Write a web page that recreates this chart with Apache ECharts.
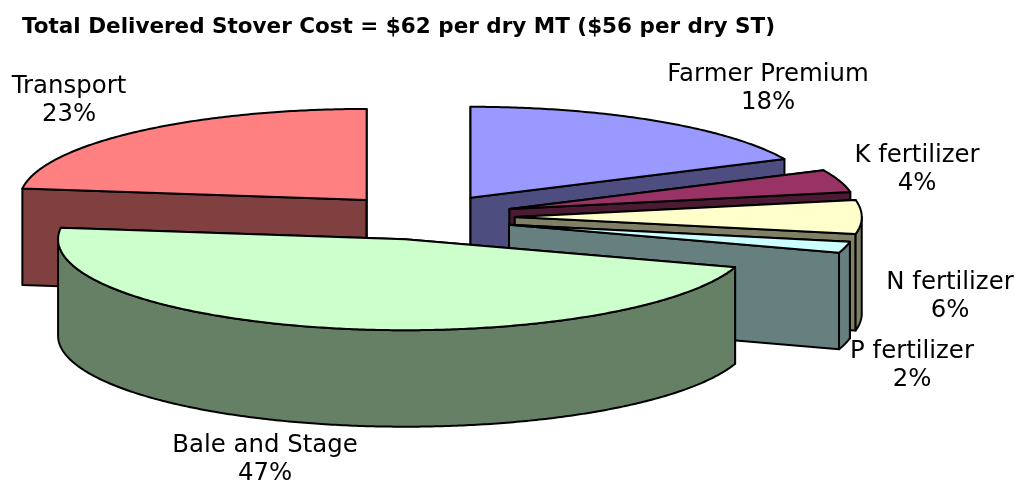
<!doctype html>
<html>
<head>
<meta charset="UTF-8">
<script src="https://cdn.jsdelivr.net/npm/echarts@6/dist/echarts.min.js"></script>
<style>html,body{margin:0;padding:0;background:#fff}</style>
</head>
<body>
<div id="main" style="width:1015px;height:482px"></div>
<script>
// values in percent, clockwise from 12 o'clock
var categories = ['Farmer Premium', 'K fertilizer', 'N fertilizer', 'P fertilizer', 'Bale and Stage', 'Transport'];
var shares = [18, 4, 6, 2, 47, 23];
var topColors = ['#9999FF', '#993366', '#FFFFCC', '#CCFFFF', '#CCFFCC', '#FF8080'];
var sideColors = ['#4D4D80', '#4D1A33', '#808066', '#668080', '#668066', '#804040'];
// label centres, px
var labelX = [768, 917, 950, 912, 265, 69];
var labelY = [89, 170, 297, 366, 460, 101];
// small px corrections on top of the explode offset
var nudgeX = [0, 3, 4, 1, 0, 0];
var nudgeY = [0, -1, 0, 2, 0, 0];
// paint order: Transport at the back, Bale in front
var paintRank = [1, 2, 3, 4, 5, 0];

var cx = 424, cy = 217, rx = 347, ry = 91, depth = 96.5, explode = 0.25;
var FONT = '"DejaVu Sans", Verdana, sans-serif';

var chart = echarts.init(document.getElementById('main'), null, { renderer: 'canvas' });

var total = shares.reduce(function (a, b) { return a + b; }, 0);
var starts = [];
shares.reduce(function (acc, v, i) { starts[i] = acc; return acc + v; }, 0);

function pt(c, a, dy) {
    return [c[0] + rx * Math.sin(a), c[1] - ry * Math.cos(a) + (dy || 0)];
}
function arc(c, a0, a1, dy) {
    var n = Math.max(2, Math.ceil((a1 - a0) / 0.01)), out = [];
    for (var i = 0; i <= n; i++) out.push(pt(c, a0 + (a1 - a0) * i / n, dy));
    return out;
}

function renderSlice(params, api) {
    var i = params.dataIndex;
    var a0 = starts[i] / total * 2 * Math.PI;
    var a1 = (starts[i] + api.value(0)) / total * 2 * Math.PI;
    var mid = (a0 + a1) / 2;
    var c = [cx + rx * explode * Math.sin(mid) + nudgeX[i], cy - ry * explode * Math.cos(mid) + nudgeY[i]];
    var z = paintRank[i] * 10;
    var kids = [];
    var low = [c[0], c[1] + depth];

    function poly(points, fill, order) {
        return {
            type: 'polygon', z2: z + order, shape: { points: points },
            style: { fill: fill, stroke: '#000', lineWidth: 2, lineJoin: 'round' }
        };
    }

    // cut faces first
    kids.push(poly([c, pt(c, a0), pt(c, a0, depth), low], sideColors[i], 0));
    kids.push(poly([c, pt(c, a1), pt(c, a1, depth), low], sideColors[i], 1));

    // outer wall, only the part facing the viewer
    var w0 = Math.max(a0, Math.PI / 2), w1 = Math.min(a1, 3 * Math.PI / 2);
    if (w1 > w0) {
        kids.push(poly(arc(c, w0, w1).concat(arc(c, w0, w1, depth).reverse()), sideColors[i], 2));
    }
    kids.push(poly([c].concat(arc(c, a0, a1)), topColors[i], 3));
    return { type: 'group', children: kids };
}

function renderLabel(params, api) {
    var i = params.dataIndex;
    return {
        type: 'text',
        style: {
            x: labelX[i], y: labelY[i],
            text: categories[i] + '\n' + api.value(0) + '%',
            font: '24.4px ' + FONT,
            fill: '#000', align: 'center', verticalAlign: 'middle', lineHeight: 28
        }
    };
}

var option = {
    animation: false,
    title: {
        text: 'Total Delivered Stover Cost = $62 per dry MT ($56 per dry ST)',
        left: 22, top: 16, padding: 0,
        textStyle: { fontFamily: FONT, fontSize: 21.5, fontWeight: 'bold', color: '#000' }
    },
    series: [
        { type: 'custom', coordinateSystem: 'none', data: shares, renderItem: renderSlice, z: 2, silent: true },
        { type: 'custom', coordinateSystem: 'none', data: shares, renderItem: renderLabel, z: 3, silent: true }
    ]
};
chart.setOption(option);
</script>
</body>
</html>
